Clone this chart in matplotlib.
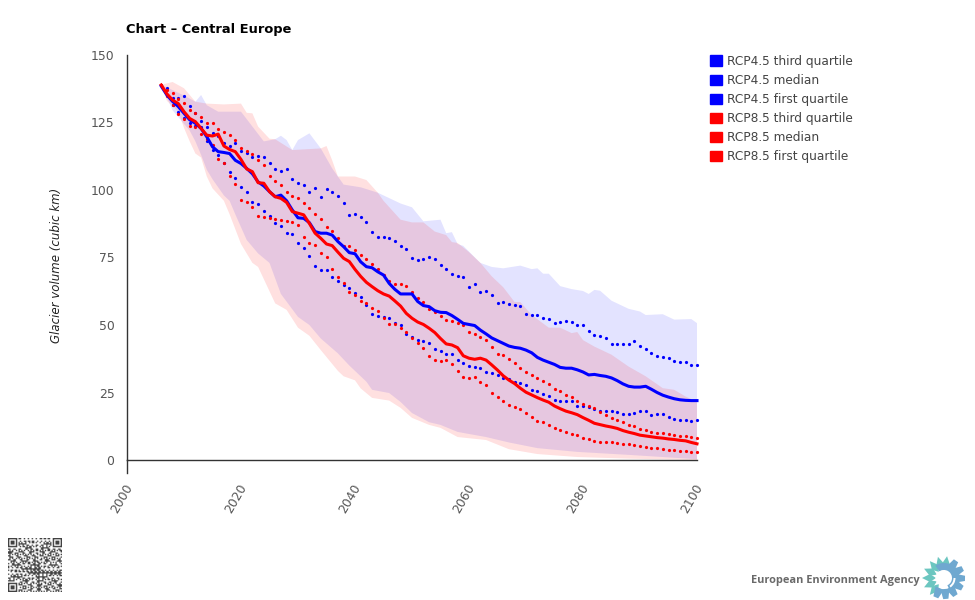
import numpy as np
import matplotlib
matplotlib.use('Agg')
import matplotlib.pyplot as plt
from matplotlib.patches import Patch, Polygon, Circle, Wedge
from matplotlib.transforms import ScaledTranslation

years = np.arange(2006, 2101)

# annual values, cubic km
rcp45_q3 = [138.9, 137.6, 134, 134,
    134.8, 131.1, 128.4, 125.7, 123.2, 121, 120, 117.3, 116.3, 117.3,
    114.4, 113.6, 112.3, 112.6, 112.1, 109.9, 107.6, 106.9, 107.9, 103.9,
    102.7, 101.8, 99.3, 100.7, 97.3, 100.5, 99.1, 97.8, 95.1, 90.6,
    91.2, 90, 88, 84.6, 82.5, 82.7, 82.2, 81, 79.1, 78.1,
    74.9, 74.1, 74.3, 75.1, 74.6, 72.3, 70.9, 68.9, 68.1, 67.9,
    64.2, 65, 62.3, 62.7, 61.2, 58, 58.6, 57.6, 57.4, 57,
    54, 53.8, 53.7, 52.6, 52.1, 50.9, 51, 51.5, 51, 49.9,
    49.9, 47.6, 46.4, 45.9, 45, 43, 43, 43, 43, 44.2,
    42.1, 41, 39.6, 38.7, 38, 37.9, 36.7, 36.4, 36.4, 35,
    35]
rcp45_median = [138.5, 135.2, 132.8, 130.9,
    128.4, 126, 124.7, 122.8, 119.7, 116, 114.2, 113.9, 113.5, 111,
    109.8, 108, 106, 103, 101.5, 99.4, 97.5, 98.1, 96, 92.6,
    89.7, 89.5, 87.9, 84.6, 84, 84, 83.3, 80.9, 79, 76.8,
    76.4, 73.4, 71.6, 71.2, 69.7, 68.5, 65.4, 63.2, 61.5, 61.5,
    61.5, 58.7, 57.2, 56.8, 55.3, 54.7, 54.6, 53.5, 52.1, 50.6,
    50.2, 49.8, 48.1, 46.7, 45.2, 44.2, 43.2, 42.2, 41.7, 41.4,
    40.7, 39.7, 38, 37, 36.2, 35.4, 34.3, 34, 34, 33.4,
    32.6, 31.5, 31.7, 31.3, 31, 30.4, 29.4, 28.2, 27.3, 27,
    27, 27.3, 26.2, 25, 24, 23.3, 22.7, 22.3, 22.1, 22,
    22]
rcp45_q1 = [138.9, 135.2, 131.5, 129,
    126.5, 124.7, 123.7, 123.5, 118.1, 114.8, 113, 110, 106.8, 104.3,
    101, 99.4, 95.7, 94.8, 92.3, 90.4, 87.6, 86.7, 84.2, 83.6,
    80.5, 78.6, 75.6, 72, 70.4, 70.4, 67.8, 66.3, 64.8, 63.8,
    62, 60.5, 57.5, 54.1, 53.3, 53.1, 52.5, 50.6, 49.9, 46.6,
    45.7, 44.5, 44, 43.2, 41, 40.4, 39.4, 39.1, 37, 36,
    34.9, 34.5, 33.9, 32.7, 32.1, 31.5, 30.5, 30.1, 29, 28.7,
    27.7, 26.1, 25.7, 24.6, 23.8, 22.1, 22, 21.7, 21.7, 20.1,
    20.1, 19.8, 19, 18, 18, 18, 17.6, 17.1, 17.1, 17.3,
    18, 18, 16.7, 17, 17, 16, 15.3, 14.7, 14.7, 14.4,
    14.8]
rcp85_q3 = [138.9, 137, 136, 133.6,
    132.3, 129.6, 128.4, 127, 124.9, 124.9, 122.6, 121.6, 120.4, 118.5,
    115.4, 114.4, 113.2, 111.1, 109.3, 105.2, 103.4, 102, 99.4, 97.9,
    97.2, 95, 93.2, 91.1, 89.3, 86.4, 84.8, 82.2, 79.1, 79.4,
    77.7, 75.8, 74.3, 72.6, 70.9, 68.4, 66.4, 65, 65, 64.4,
    62.2, 59.9, 58.4, 55.8, 54.7, 53.2, 52, 51.5, 50.7, 49.9,
    47.4, 46.7, 45.7, 44.3, 42, 39.1, 38.8, 37.5, 35.8, 34.1,
    32.6, 31.4, 30.2, 29.3, 28.1, 26.3, 25.5, 24.1, 23.2, 22,
    20.9, 20, 19.2, 17.7, 16.7, 15.7, 15, 14, 13, 12.6,
    11.6, 11, 10.4, 10.1, 9.9, 9.5, 9.3, 9, 8.8, 8.4,
    8]
rcp85_median = [138.9, 135.6, 133.3, 132,
    129, 126.5, 125.3, 122.8, 120.3, 120, 120.7, 116.3, 115, 114.2,
    111.3, 107.8, 106.8, 102.7, 102.5, 99.4, 97.5, 96.9, 95.4, 92,
    91.4, 90.8, 87.6, 84, 82.1, 80, 79.4, 77, 74.7, 73.5,
    70.6, 68, 65.8, 64.2, 62.7, 61.5, 60.7, 58.9, 57, 54.3,
    52.5, 51.1, 50.2, 48.8, 47.2, 45, 43, 42.6, 41.6, 38.6,
    37.7, 37.3, 37.7, 37, 35.2, 33.3, 31.2, 29.6, 28.3, 26.6,
    25.1, 24.1, 23.1, 22.2, 21.4, 20, 19, 18.1, 17.5, 16.8,
    15.7, 14.7, 13.6, 13.1, 12.6, 12.2, 11.7, 10.9, 10.3, 9.8,
    9.2, 8.9, 8.6, 8.3, 8.1, 7.8, 7.6, 7.3, 7.1, 6.5,
    6]
rcp85_q1 = [138.9, 134.8, 131.5, 128.1,
    126.2, 123.7, 123.5, 120.7, 118.9, 116.7, 111.5, 109.9, 105.2, 102.2,
    96.3, 95.5, 93.8, 90.4, 89.9, 89.5, 89.1, 88.9, 88.4, 88.3,
    87, 82.5, 80.5, 79.6, 76.5, 75.2, 70.7, 67.9, 65.4, 62.3,
    61, 58.9, 58.3, 56.3, 55, 52.7, 50.4, 50.4, 48.9, 47.5,
    45, 43.2, 41.3, 38.5, 36.9, 36.7, 36.9, 35.4, 32.9, 30.9,
    30.3, 30.6, 29, 27.8, 25, 23.2, 21.7, 20.5, 19.5, 18.9,
    17.5, 16, 14.6, 14, 12.9, 12, 11, 10.5, 9.6, 9.1,
    8.1, 7.6, 7.1, 6.8, 6.6, 6.5, 6.3, 6, 5.8, 5.7,
    5.2, 4.7, 4.6, 4.5, 4.1, 3.8, 3.6, 3.5, 3.4, 3.1,
    2.9]

# model envelopes, read at the visible kinks only
rcp45_max_years = [2006, 2008, 2010, 2012, 2013, 2014, 2016, 2020, 2024, 2026, 2027, 2028, 2029, 2030, 2032, 2034,
    2036, 2038, 2041, 2044, 2048, 2050, 2052, 2055, 2056, 2057, 2058, 2059, 2062, 2064, 2066, 2069, 2071, 2072,
    2073, 2074, 2076, 2078, 2080, 2081, 2082, 2083, 2085, 2086, 2088, 2090, 2091, 2094, 2096, 2099, 2100]
rcp45_max = [139, 137, 135, 132.7, 135.2, 131.4, 129, 129, 118, 118.8, 120.1, 118.5, 114.8, 118.5, 121, 115.4,
    108, 102, 101, 99, 95, 93.6, 88.4, 89, 84, 84.4, 80, 79.3, 73, 71.5, 71, 72, 70.7, 71,
    69, 69, 64.4, 63.3, 62.6, 61.5, 63, 62.7, 59, 58, 56, 55, 53.7, 54, 52, 52.2, 50.7]
rcp45_min_years = [2006, 2008, 2010, 2011, 2012, 2013, 2014, 2015, 2017, 2018, 2019, 2021, 2023, 2025, 2027, 2030,
    2032, 2034, 2037, 2039, 2040, 2042, 2043, 2046, 2048, 2050, 2053, 2055, 2058, 2063, 2067, 2072, 2079, 2088, 2100]
rcp45_min = [139, 129.5, 124.5, 122, 118, 113, 107.5, 104, 98, 96, 91, 81.5, 76.5, 73, 61.5, 53,
    50, 45, 39.5, 35, 33, 29, 26, 24.8, 21.5, 17.4, 14, 13, 10.4, 8.5, 6.5, 4.4, 3, 1.9, 0.3]
rcp85_max_years = [2006, 2008, 2010, 2012, 2014, 2017, 2020, 2021, 2022, 2023, 2025, 2026, 2029, 2034, 2035, 2036,
    2037, 2040, 2042, 2044, 2045, 2048, 2050, 2052, 2054, 2056, 2057, 2058, 2060, 2062, 2064, 2066, 2068, 2069,
    2071, 2074, 2076, 2078, 2079, 2080, 2082, 2085, 2088, 2091, 2094, 2096, 2098, 2100]
rcp85_max = [139, 140, 137.7, 132.7, 132, 131.7, 132, 128.6, 128.4, 123.5, 119, 118.8, 114.8, 115.4, 116.3, 111,
    105, 105, 103.7, 99, 96, 89, 88, 88, 84.6, 83.3, 80.7, 80.4, 77, 73, 68, 64, 58.5, 58.5,
    53.7, 49, 49, 47, 47.4, 44.4, 42, 39, 34.6, 31, 26.6, 26, 23.5, 21.6]
rcp85_min_years = [2006, 2007, 2009, 2010, 2011, 2012, 2013, 2014, 2015, 2017, 2018, 2020, 2022, 2023, 2026, 2028,
    2030, 2032, 2034, 2037, 2038, 2040, 2041, 2043, 2046, 2048, 2050, 2053, 2055, 2058, 2063, 2067, 2072, 2079, 2088, 2100]
rcp85_min = [139, 133, 129, 123, 118, 113.5, 112, 105, 100.6, 96, 91, 80, 73, 71.5, 58, 55.6,
    49, 46, 40.7, 33, 31, 29.5, 26.5, 23, 22, 19.3, 15.6, 13, 11.9, 8.5, 7.4, 4, 2.2, 1.1, 0.5, 0]

x_ticks = [2000, 2020, 2040, 2060, 2080, 2100]
y_ticks = [0, 25, 50, 75, 100, 125, 150]
legend_labels = ['RCP4.5 third quartile', 'RCP4.5 median', 'RCP4.5 first quartile',
                 'RCP8.5 third quartile', 'RCP8.5 median', 'RCP8.5 first quartile']

W, H = 975, 600
BLUE, RED = '#0000ff', '#ff0000'
AXIS = '#333333'
TXT = '#444444'

fig = plt.figure(figsize=(W / 100, H / 100), dpi=100)
ax = fig.add_axes([127 / W, (H - 460) / H, 570 / W, 405 / H])


def band(ax, top_x, top, bot_x, bot, color, alpha):
    xs = list(top_x) + list(bot_x)[::-1]
    ys = list(top) + list(bot)[::-1]
    ax.fill(xs, ys, color=color, alpha=alpha, lw=0, zorder=1)


band(ax, rcp45_max_years, rcp45_max, rcp45_min_years, rcp45_min, BLUE, 0.11)
band(ax, rcp85_max_years, rcp85_max, rcp85_min_years, rcp85_min, RED, 0.12)

for q, color in [(rcp45_q3, BLUE), (rcp45_q1, BLUE), (rcp85_q3, RED), (rcp85_q1, RED)]:
    ax.plot(years, q, ls='none', marker='o', ms=2.3, mew=0, color=color, zorder=3, clip_on=False)
ax.plot(years, rcp45_median, color=BLUE, lw=2.2, zorder=4, clip_on=False, solid_joinstyle='round')
ax.plot(years, rcp85_median, color=RED, lw=2.2, zorder=5, clip_on=False, solid_joinstyle='round')

ax.set_xlim(2000, 2100)
ax.set_ylim(0, 150)
ax.spines['top'].set_visible(False)
ax.spines['right'].set_visible(False)
for side in ['left', 'bottom']:
    ax.spines[side].set_color(AXIS)
    ax.spines[side].set_linewidth(1.0)
# the left axis runs on a bit below zero
ax.plot([0, 0], [0, -13 / 405], transform=ax.transAxes, color=AXIS, lw=1.0, clip_on=False, zorder=6)

ax.set_xticks(x_ticks)
ax.set_yticks(y_ticks)
ax.tick_params(axis='both', length=0, labelsize=8.9, labelcolor='#555555')
ax.tick_params(axis='y', pad=9)
ax.tick_params(axis='x', pad=18)
shift = ScaledTranslation(2 / 72, 0, fig.dpi_scale_trans)
for lab in ax.get_xticklabels():
    lab.set_rotation(60)
    lab.set_ha('right')
    lab.set_rotation_mode('anchor')
    lab.set_va('center')
    lab.set_transform(lab.get_transform() + shift)

fig.text(57 / W, 1 - 265 / H, 'Glacier volume (cubic km)', rotation=90, style='italic',
         fontsize=8.5, color='#222222', ha='center', va='center')
fig.text(126 / W, 1 - 30 / H, 'Chart \u2013 Central Europe', fontweight='bold', fontsize=9.4,
         color='black', ha='left', va='center')

handles = [Patch(color=BLUE)] * 3 + [Patch(color=RED)] * 3
fig.legend(handles, legend_labels, loc='upper left', bbox_to_anchor=(710 / W, 1 - 55 / H),
           frameon=False, fontsize=8.7, labelcolor=TXT, borderpad=0, borderaxespad=0,
           handlelength=0.99, handleheight=0.99, handletextpad=0.45, labelspacing=0.5)

# footer: QR block and logo, in pixel coordinates
over = fig.add_axes([0, 0, 1, 1], zorder=10)
over.set_xlim(0, W)
over.set_ylim(H, 0)
over.axis('off')

n = 41
qr = ((np.arange(n)[:, None] * 7919 + np.arange(n)[None, :] * 104729
       + np.arange(n)[:, None] * np.arange(n)[None, :] * 31) % 97 < 46).astype(float)
for r, c in [(0, 0), (0, n - 7), (n - 7, 0)]:
    qr[max(r - 1, 0):r + 8, max(c - 1, 0):c + 8] = 0
    qr[r:r + 7, c:c + 7] = 1
    qr[r + 1:r + 6, c + 1:c + 6] = 0
    qr[r + 2:r + 5, c + 2:c + 5] = 1
over.imshow(1 - qr, cmap='gray', vmin=-0.35, vmax=1, extent=(8, 62, 592, 538),
            interpolation='bilinear', aspect='auto', zorder=1)
over.set_xlim(0, W)
over.set_ylim(H, 0)

over.text(751, 580, 'European Environment Agency', fontsize=7.9, family='Open Sans',
          fontweight='bold', color='#6a6a6a', ha='left', va='center')

cx, cy = 944, 578
TEAL, STEEL = '#6cc6c0', '#6fa8d0'
c = np.array([cx, cy])
for deg in [82, 106, 130, 155, 180, 205, 230]:
    a = np.radians(deg)
    u = np.array([np.cos(a), -np.sin(a)])
    v = np.array([-u[1], u[0]])
    over.add_patch(Polygon([c + u * 8, c + u * 14 + v * 4, c + u * 22, c + u * 14 - v * 4],
                           color=TEAL, lw=0, zorder=2))
for deg in [55, 27, -1, -29, -57, -85, -113]:
    a = np.radians(deg)
    u = np.array([np.cos(a), -np.sin(a)])
    v = np.array([-u[1], u[0]])
    over.add_patch(Polygon([c + u * 11 + v * 4.5, c + u * 21 + v * 2.6, c + u * 21 - v * 2.6, c + u * 11 - v * 4.5],
                           color=STEEL, lw=0, zorder=2))
over.add_patch(Wedge((cx, cy), 15, -125, 65, width=7, color=STEEL, lw=0, zorder=3))
over.add_patch(Circle((cx - 1, cy), 7.5, color='white', lw=0, zorder=4))
over.add_patch(Wedge((cx, cy), 11.5, 0, 55, width=2, color='white', lw=0, zorder=5))

fig.savefig('out.png', dpi=100)
